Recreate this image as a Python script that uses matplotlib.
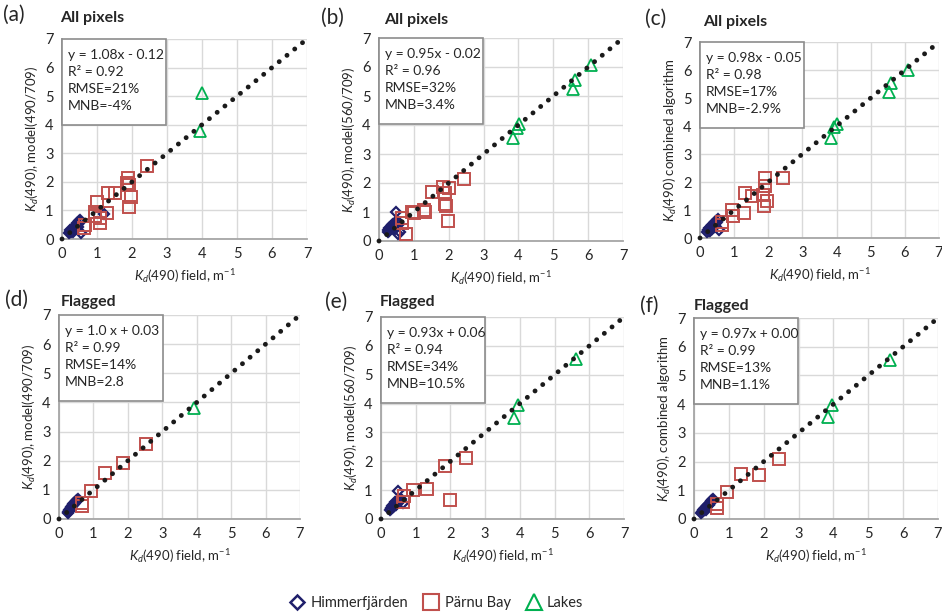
import matplotlib
matplotlib.use('Agg')
import matplotlib.pyplot as plt
from matplotlib.patches import Rectangle
from matplotlib.lines import Line2D

plt.rcParams['font.family'] = ['Lato', 'DejaVu Sans']
plt.rcParams['mathtext.fontset'] = 'custom'
plt.rcParams['mathtext.rm'] = 'Lato'
plt.rcParams['mathtext.it'] = 'Lato:italic'

# ---- data ----
# (a) all pixels, model(490/709)
him_x_a = [0.20, 0.22, 0.24, 0.25, 0.27, 0.28, 0.30, 0.31, 0.33, 0.35, 0.36, 0.38, 0.40, 0.42, 0.44, 0.46, 0.48, 0.50, 0.52, 0.30, 0.35, 0.40, 0.45, 0.54, 1.20]
him_y_a = [0.22, 0.26, 0.30, 0.24, 0.33, 0.28, 0.36, 0.30, 0.40, 0.35, 0.45, 0.40, 0.50, 0.46, 0.55, 0.52, 0.62, 0.58, 0.68, 0.25, 0.30, 0.38, 0.42, 0.20, 0.88]
par_x_a = [2.44, 1.89, 1.85, 1.92, 1.97, 1.90, 1.32, 1.51, 0.99, 0.94, 1.09, 1.28, 1.09, 0.94, 0.66, 0.64]
par_y_a = [2.56, 2.12, 1.95, 1.88, 1.46, 1.13, 1.60, 1.60, 1.31, 0.96, 0.72, 0.90, 0.57, 0.79, 0.49, 0.40]
lak_x_a = [4.00, 3.93]
lak_y_a = [5.10, 3.78]

# (b) all pixels, model(560/709)
him_x_b = [0.25, 0.27, 0.29, 0.30, 0.32, 0.33, 0.35, 0.36, 0.38, 0.40, 0.42, 0.44, 0.46, 0.48, 0.50, 0.52, 0.55, 0.58, 0.50, 0.60, 0.55, 0.45]
him_y_b = [0.30, 0.38, 0.34, 0.45, 0.40, 0.50, 0.44, 0.55, 0.48, 0.58, 0.52, 0.60, 0.55, 0.65, 0.62, 0.70, 0.66, 0.60, 1.00, 0.30, 0.25, 0.40]
par_x_b = [0.65, 0.65, 0.77, 0.95, 1.00, 1.30, 1.32, 1.53, 1.85, 2.00, 1.89, 1.90, 1.92, 1.99, 2.44]
par_y_b = [0.78, 0.62, 0.23, 1.00, 0.97, 1.07, 1.00, 1.70, 1.87, 1.82, 1.64, 1.28, 1.22, 0.69, 2.14]
lak_x_b = [3.85, 3.97, 4.03, 5.56, 5.61, 6.09]
lak_y_b = [3.54, 3.91, 4.03, 5.24, 5.56, 6.08]

# (c) all pixels, combined algorithm
him_x_c = [0.20, 0.22, 0.24, 0.25, 0.27, 0.28, 0.30, 0.31, 0.33, 0.35, 0.36, 0.38, 0.40, 0.42, 0.44, 0.46, 0.48, 0.50, 0.52, 0.30, 0.35, 0.40, 0.45, 0.57]
him_y_c = [0.22, 0.27, 0.30, 0.25, 0.34, 0.29, 0.37, 0.31, 0.41, 0.36, 0.46, 0.41, 0.50, 0.47, 0.56, 0.52, 0.62, 0.58, 0.67, 0.26, 0.31, 0.38, 0.43, 0.30]
par_x_c = [2.42, 1.90, 1.90, 1.85, 1.95, 1.88, 1.32, 1.51, 1.30, 0.93, 0.98, 0.65, 0.65]
par_y_c = [2.13, 2.13, 1.87, 1.55, 1.31, 1.15, 1.61, 1.49, 0.91, 1.01, 0.77, 0.56, 0.45]
lak_x_c = [3.83, 3.93, 4.00, 5.54, 5.59, 6.08]
lak_y_c = [3.56, 3.95, 4.08, 5.20, 5.54, 6.01]

# (d) flagged, model(490/709)
him_x_d = [0.25, 0.27, 0.28, 0.30, 0.32, 0.34, 0.36, 0.38, 0.40, 0.42, 0.45, 0.48, 0.50, 0.52, 0.55, 0.35, 0.44]
him_y_d = [0.22, 0.25, 0.28, 0.30, 0.35, 0.38, 0.42, 0.45, 0.48, 0.52, 0.55, 0.60, 0.63, 0.66, 0.70, 0.33, 0.50]
par_x_d = [2.53, 1.85, 1.34, 0.93, 0.66, 0.66]
par_y_d = [2.56, 1.93, 1.59, 0.96, 0.54, 0.45]
lak_x_d = [3.93]
lak_y_d = [3.82]

# (e) flagged, model(560/709)
him_x_e = [0.25, 0.28, 0.30, 0.32, 0.34, 0.36, 0.38, 0.40, 0.42, 0.44, 0.46, 0.48, 0.50, 0.52, 0.55, 0.58, 0.50, 0.40, 0.62]
him_y_e = [0.32, 0.38, 0.35, 0.44, 0.40, 0.48, 0.45, 0.52, 0.50, 0.58, 0.55, 0.62, 0.60, 0.66, 0.62, 0.68, 0.97, 0.58, 0.55]
par_x_e = [2.45, 1.84, 1.33, 0.93, 0.67, 0.64, 2.00]
par_y_e = [2.13, 1.84, 1.03, 1.00, 0.80, 0.60, 0.66]
lak_x_e = [3.84, 3.94, 5.61]
lak_y_e = [3.51, 3.94, 5.53]

# (f) flagged, combined algorithm
him_x_f = [0.20, 0.22, 0.25, 0.27, 0.28, 0.30, 0.32, 0.34, 0.36, 0.38, 0.40, 0.42, 0.45, 0.48, 0.50, 0.52, 0.55, 0.35, 0.44]
him_y_f = [0.20, 0.24, 0.27, 0.30, 0.33, 0.35, 0.38, 0.40, 0.44, 0.46, 0.50, 0.52, 0.55, 0.60, 0.62, 0.66, 0.70, 0.32, 0.48]
par_x_f = [2.45, 1.86, 1.34, 0.95, 0.67, 0.67]
par_y_f = [2.10, 1.53, 1.58, 0.95, 0.53, 0.40]
lak_x_f = [3.84, 3.96, 5.61]
lak_y_f = [3.54, 3.97, 5.52]

panel_tags = ['(a)', '(b)', '(c)', '(d)', '(e)', '(f)']
panel_titles = ['All pixels', 'All pixels', 'All pixels', 'Flagged', 'Flagged', 'Flagged']
ylabels = [r'$K_d$(490), model(490/709)', r'$K_d$(490), model(560/709)', r'$K_d$(490) combined algorithm',
           r'$K_d$(490), model(490/709)', r'$K_d$(490), model(560/709)', r'$K_d$(490), combined algorithm']
eqs = ['y = 1.08x - 0.12', 'y = 0.95x - 0.02', 'y = 0.98x - 0.05',
       'y = 1.0 x + 0.03', 'y = 0.93x + 0.06', 'y = 0.97x + 0.00']
r2s = ['0.92', '0.96', '0.98', '0.99', '0.94', '0.99']
rmses = ['21%', '32%', '17%', '14%', '34%', '13%']
mnbs = ['-4%', '3.4%', '-2.9%', '2.8', '10.5%', '1.1%']

him_x = [him_x_a, him_x_b, him_x_c, him_x_d, him_x_e, him_x_f]
him_y = [him_y_a, him_y_b, him_y_c, him_y_d, him_y_e, him_y_f]
par_x = [par_x_a, par_x_b, par_x_c, par_x_d, par_x_e, par_x_f]
par_y = [par_y_a, par_y_b, par_y_c, par_y_d, par_y_e, par_y_f]
lak_x = [lak_x_a, lak_x_b, lak_x_c, lak_x_d, lak_x_e, lak_x_f]
lak_y = [lak_y_a, lak_y_b, lak_y_c, lak_y_d, lak_y_e, lak_y_f]

# ---- styling ----
W, H = 942, 615
navy = '#1F1F6B'
red = '#C0504D'
green = '#00B050'
txt = '#262626'

# axes boxes in pixels: left, top, right, bottom
boxes = [(62, 39, 307, 239), (379, 38, 623, 241), (700, 42, 939, 238),
         (59, 315, 300, 519), (381, 317, 624, 519), (694, 318, 938, 519)]
tag_pos = [(3, 15), (321, 18), (645, 19), (5, 300), (325, 302), (640, 306)]
title_pos = [(60, 18), (384, 20), (703, 22), (61, 302), (380, 302), (694, 306)]

fig = plt.figure(figsize=(W / 100, H / 100), dpi=100)

for i in range(6):
    l, t, r, b = boxes[i]
    ax = fig.add_axes([l / W, 1 - b / H, (r - l) / W, (b - t) / H])
    ax.set_xlim(0, 7)
    ax.set_ylim(0, 7)
    ax.set_xticks(range(8))
    ax.set_yticks(range(8))
    ax.grid(True, color='#D9D9D9', lw=1.0, zorder=0)
    ax.set_axisbelow(True)
    ax.tick_params(length=0, labelsize=10.5, colors=txt, pad=6)
    for s in ['top', 'right']:
        ax.spines[s].set_visible(False)
    for s in ['left', 'bottom']:
        ax.spines[s].set_color('#A6A6A6')
        ax.spines[s].set_linewidth(1.3)

    # 1:1 line drawn as dots
    ax.plot([0, 7], [0, 7], color='#1a1a1a', lw=3.5, linestyle=(0, (0.01, 2.05)),
            dash_capstyle='round', zorder=4, clip_on=False)

    ax.plot(him_x[i], him_y[i], 'D', ms=5.5, mfc='none', mec=navy, mew=1.6, zorder=3, clip_on=False)
    ax.plot(par_x[i], par_y[i], 's', ms=8.5, mfc='none', mec=red, mew=1.4, zorder=3)
    ax.plot(lak_x[i], lak_y[i], '^', ms=9, mfc='none', mec=green, mew=1.3, zorder=3)

    ax.set_xlabel(r'$K_d$(490) field, m$^{-1}$', fontsize=9.5, color=txt, labelpad=4)
    ax.set_ylabel(ylabels[i], fontsize=9.5, color=txt, labelpad=3)

    # stats box in top-left corner
    bw = 104 / (r - l)
    bh = 86 / (b - t)
    ax.add_patch(Rectangle((0, 1 - bh), bw, bh, transform=ax.transAxes, fc='white',
                           ec='#8C8C8C', lw=1.2, zorder=6, clip_on=False))
    stats = f'{eqs[i]}\nR\u00b2 = {r2s[i]}\nRMSE={rmses[i]}\nMNB={mnbs[i]}'
    ax.text(6 / (r - l), 1 - 10 / (b - t), stats, transform=ax.transAxes, va='top', ha='left',
            fontsize=10, color=txt, linespacing=1.5, zorder=7)

    fig.text(tag_pos[i][0] / W, 1 - tag_pos[i][1] / H, panel_tags[i], fontsize=15,
             color=txt, va='center', ha='left')
    fig.text(title_pos[i][0] / W, 1 - title_pos[i][1] / H, panel_titles[i], fontsize=11.5,
             fontweight='bold', color=txt, va='center', ha='left')

# legend at the bottom
handles = [Line2D([], [], ls='none', marker='D', ms=7, mfc='none', mec=navy, mew=1.8),
           Line2D([], [], ls='none', marker='s', ms=11, mfc='none', mec=red, mew=1.5),
           Line2D([], [], ls='none', marker='^', ms=12, mfc='none', mec=green, mew=1.5)]
fig.legend(handles, ['Himmerfjärden', 'Pärnu Bay', 'Lakes'], loc='center', ncol=3,
           bbox_to_anchor=(436 / W, 1 - 603 / H), frameon=False, fontsize=10.5,
           handletextpad=0.3, columnspacing=1.0, handlelength=1.2, labelcolor=txt)

fig.savefig('out.png', dpi=100)
